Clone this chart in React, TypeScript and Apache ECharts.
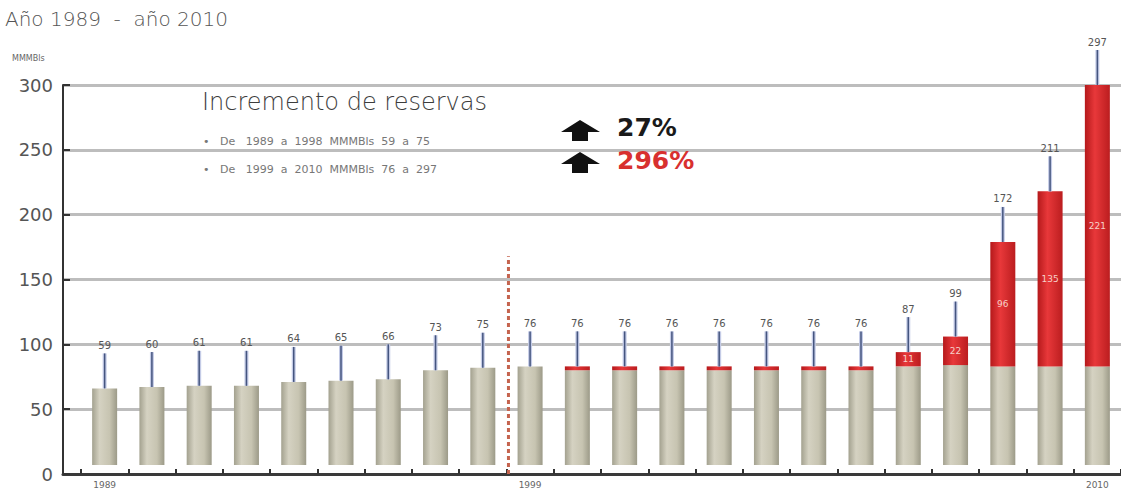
import React, { useEffect, useRef } from "react";
import * as echarts from "echarts";

// ---- data ----
const years = [
  "1989", "1990", "1991", "1992", "1993", "1994", "1995", "1996", "1997", "1998", "1999",
  "2000", "2001", "2002", "2003", "2004", "2005", "2006", "2007", "2008", "2009", "2010",
];
const tickLabels = [
  "1989", "", "", "", "", "", "", "", "", "1999", "",
  "", "", "", "", "", "", "", "", "", "", "2010",
];
const baseReserves = [59, 60, 61, 61, 64, 65, 66, 73, 75, 76, 73, 73, 73, 73, 73, 73, 73, 76, 77, 76, 76, 76];
const addedReserves = [0, 0, 0, 0, 0, 0, 0, 0, 0, 0, 3, 3, 3, 3, 3, 3, 3, 11, 22, 96, 135, 221];
const totals = [59, 60, 61, 61, 64, 65, 66, 73, 75, 76, 76, 76, 76, 76, 76, 76, 76, 87, 99, 172, 211, 297];
const yTicks = [0, 50, 100, 150, 200, 250, 300];
const dividerIndex = 9; // start of 1999–2010 period
const dividerTopValue = 168;

const FLOAT = 7;
const Y_MAX = yTicks[yTicks.length - 1];

export default function App() {
  const ref = useRef<HTMLDivElement>(null);

  useEffect(() => {
    if (!ref.current) return;
    const chart = echarts.init(ref.current, null, { renderer: "svg" });

    const grayGrad = new echarts.graphic.LinearGradient(0, 0, 1, 0, [
      { offset: 0, color: "#a3a18f" },
      { offset: 0.3, color: "#d5d2c2" },
      { offset: 0.7, color: "#c7c4b1" },
      { offset: 1, color: "#9c9a88" },
    ]);
    const redGrad = new echarts.graphic.LinearGradient(0, 0, 1, 0, [
      { offset: 0, color: "#b5191b" },
      { offset: 0.4, color: "#e8383a" },
      { offset: 1, color: "#bb1d1f" },
    ]);

    const font = "'DejaVu Sans', 'Open Sans', sans-serif";

    const option: any = {
      animation: false,
      textStyle: { fontFamily: font },
      grid: [
        { left: 63, right: 0, top: 85, bottom: 19 },
        { left: 81, right: -8, top: 85, bottom: 19 },
      ],
      xAxis: [
        {
          gridIndex: 0,
          type: "value",
          min: 0,
          max: 1,
          axisLine: { show: true, onZero: false, lineStyle: { color: "#3a3a3a", width: 3 } },
          axisTick: { show: false },
          axisLabel: { show: false },
          splitLine: { show: false },
        },
        {
          gridIndex: 1,
          type: "category",
          data: years,
          axisLine: { show: false },
          axisTick: { show: true, inside: true, length: 5, lineStyle: { color: "#333", width: 2 } },
          axisLabel: {
            interval: 0,
            margin: 6,
            fontSize: 9,
            color: "#666",
            formatter: (_v: string, i: number) => tickLabels[i],
          },
        },
      ],
      yAxis: [
        {
          gridIndex: 0,
          type: "value",
          min: 0,
          max: Y_MAX,
          interval: 50,
          axisLine: { show: true, lineStyle: { color: "#333", width: 2 } },
          axisTick: { show: true, inside: true, length: 7, lineStyle: { color: "#333", width: 2 } },
          axisLabel: { fontSize: 18, color: "#555", margin: 10 },
          splitLine: { show: true, lineStyle: { color: "#bdbdbd", width: 3 } },
        },
        { gridIndex: 1, type: "value", min: 0, max: Y_MAX, show: false },
      ],
      series: [
        {
          name: "base",
          type: "bar",
          xAxisIndex: 1,
          yAxisIndex: 1,
          stack: "r",
          barWidth: 25,
          silent: true,
          itemStyle: { color: "rgba(0,0,0,0)" },
          data: years.map(() => FLOAT),
        },
        {
          name: "Reservas",
          type: "bar",
          xAxisIndex: 1,
          yAxisIndex: 1,
          stack: "r",
          barWidth: 25,
          itemStyle: { color: grayGrad },
          data: baseReserves,
        },
        {
          name: "Incremento",
          type: "bar",
          xAxisIndex: 1,
          yAxisIndex: 1,
          stack: "r",
          barWidth: 25,
          itemStyle: { color: redGrad },
          label: {
            show: true,
            position: "inside",
            fontSize: 9,
            color: "#f6d0c8",
            formatter: (p: any) => (p.value >= 10 ? String(p.value) : ""),
          },
          data: addedReserves,
        },
        {
          name: "totals",
          type: "custom",
          xAxisIndex: 1,
          yAxisIndex: 1,
          silent: true,
          z: 5,
          data: totals.map((t, i) => [i, t]),
          renderItem: (params: any, api: any) => {
            const i = api.value(0);
            const t = api.value(1);
            const p = api.coord([i, t + FLOAT]);
            const cap = api.coord([i, Y_MAX])[1];
            const top = Math.max(p[1], cap);
            const x = p[0];
            return {
              type: "group",
              children: [
                {
                  type: "line",
                  shape: { x1: x, y1: top, x2: x, y2: top - 35 },
                  style: { stroke: "#c4cbe6", lineWidth: 4 },
                },
                {
                  type: "line",
                  shape: { x1: x, y1: top, x2: x, y2: top - 35 },
                  style: { stroke: "#45557f", lineWidth: 1.5 },
                },
                {
                  type: "text",
                  style: {
                    x,
                    y: top - 43,
                    text: String(t),
                    fontSize: 10,
                    fill: "#555",
                    align: "center",
                    verticalAlign: "middle",
                    fontFamily: font,
                  },
                },
              ],
            };
          },
        },
        {
          name: "divider",
          type: "custom",
          xAxisIndex: 1,
          yAxisIndex: 1,
          silent: true,
          z: 6,
          data: [[dividerIndex, dividerTopValue]],
          renderItem: (params: any, api: any) => {
            const idx = api.value(0);
            const a = api.coord([idx - 1, 0]);
            const b = api.coord([idx, 0]);
            const t = api.coord([idx, api.value(1)]);
            const x = (a[0] + b[0]) / 2 + 2;
            return {
              type: "line",
              shape: { x1: x, y1: a[1], x2: x, y2: t[1] },
              style: { stroke: "#c5644f", lineWidth: 3, lineDash: [4, 3] },
            };
          },
        },
      ],
      graphic: [
        {
          type: "text",
          left: 5,
          top: 9,
          z: 100,
          style: { text: "Año 1989  -  año 2010", fontSize: 20, fill: "#555", fontFamily: font, fontWeight: 200 },
        },
        {
          type: "text",
          left: 12,
          top: 54,
          z: 100,
          style: { text: "MMMBls", fontSize: 8, fill: "#666", fontFamily: font },
        },
        {
          type: "text",
          left: 202,
          top: 90,
          z: 100,
          style: { text: "Incremento de reservas", fontSize: 24, fill: "#3d3d3d", fontFamily: font, fontWeight: 200 },
        },
        {
          type: "text",
          left: 203,
          top: 136,
          z: 100,
          style: { text: "•   De   1989  a  1998  MMMBls  59  a  75", fontSize: 11, fill: "#777", fontFamily: font },
        },
        {
          type: "text",
          left: 203,
          top: 164,
          z: 100,
          style: { text: "•   De   1999  a  2010  MMMBls  76  a  297", fontSize: 11, fill: "#777", fontFamily: font },
        },
        {
          type: "polygon",
          z: 100,
          shape: {
            points: [[580, 120], [600, 132], [588, 132], [588, 141], [572, 141], [572, 132], [561, 132]],
          },
          style: { fill: "#111" },
        },
        {
          type: "polygon",
          z: 100,
          shape: {
            points: [[580, 152], [600, 164], [588, 164], [588, 173], [572, 173], [572, 164], [561, 164]],
          },
          style: { fill: "#111" },
        },
        {
          type: "text",
          left: 617,
          top: 115,
          z: 100,
          style: { text: "27%", fontSize: 25, fontWeight: "bold", fill: "#1a1a1a", fontFamily: font },
        },
        {
          type: "text",
          left: 617,
          top: 148,
          z: 100,
          style: { text: "296%", fontSize: 25, fontWeight: "bold", fill: "#d8302f", fontFamily: font },
        },
      ],
    };

    chart.setOption(option);
    return () => chart.dispose();
  }, []);

  return (
    <div
      ref={ref}
      style={{ position: "absolute", left: 0, top: 0, width: 1121, height: 493 }}
    />
  );
}
